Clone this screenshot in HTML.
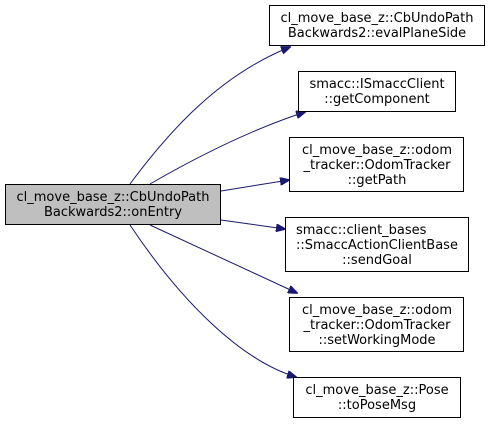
<!DOCTYPE html>
<html><head><meta charset="utf-8"><style>
body{margin:0;background:#fff;}
svg text{font-family:"DejaVu Sans",sans-serif;font-size:13px;fill:#000;}
</style></head><body>
<svg width="491" height="424" viewBox="0 0 491 424" xmlns="http://www.w3.org/2000/svg">
<defs><marker id="a" markerWidth="10" markerHeight="8" refX="9" refY="4" orient="auto" markerUnits="userSpaceOnUse"><path d="M0,0 L10,4 L0,8 z" fill="#191970" stroke="#191970"/></marker></defs>
<g fill="none" stroke="#191970" stroke-width="1">
<path d="M130,184 C170,130 220,75 290,47" marker-end="url(#a)"/>
<path d="M150,184 C195,158 250,130 305,112" marker-end="url(#a)"/>
<path d="M221,191 L289,180" marker-end="url(#a)"/>
<path d="M221,220 L285,229" marker-end="url(#a)"/>
<path d="M150,225 L297,293" marker-end="url(#a)"/>
<path d="M130,225 C180,300 240,360 296,377" marker-end="url(#a)"/>
</g>
<g stroke="#000" stroke-width="1">
<rect x="5.5" y="184.5" width="215" height="40" fill="#bfbfbf"/>
<rect x="269.5" y="5.5" width="215" height="40" fill="#fff"/>
<rect x="298.5" y="71.5" width="157" height="40" fill="#fff"/>
<rect x="289.5" y="137.5" width="174" height="54" fill="#fff"/>
<rect x="285.5" y="217.5" width="183" height="54" fill="#fff"/>
<rect x="289.5" y="297.5" width="174" height="54" fill="#fff"/>
<rect x="293.5" y="377.5" width="167" height="40" fill="#fff"/>
</g>
<g text-anchor="middle">
<text x="113" y="201">cl_move_base_z::CbUndoPath</text>
<text x="113" y="216">Backwards2::onEntry</text>
<text x="377" y="22">cl_move_base_z::CbUndoPath</text>
<text x="377" y="37">Backwards2::evalPlaneSide</text>
<text x="377" y="88">smacc::ISmaccClient</text>
<text x="377" y="103">::getComponent</text>
<text x="377" y="154">cl_move_base_z::odom</text>
<text x="377" y="169">_tracker::OdomTracker</text>
<text x="377" y="184">::getPath</text>
<text x="377" y="314">cl_move_base_z::odom</text>
<text x="377" y="329">_tracker::OdomTracker</text>
<text x="377" y="344">::setWorkingMode</text>
<text x="377" y="394">cl_move_base_z::Pose</text>
<text x="377" y="409">::toPoseMsg</text>
</g>
<text x="296" y="234">smacc::client_bases</text>
<text x="296" y="249">::SmaccActionClientBase</text>
<text x="377" y="264" text-anchor="middle">::sendGoal</text>
</svg>
</body></html>
